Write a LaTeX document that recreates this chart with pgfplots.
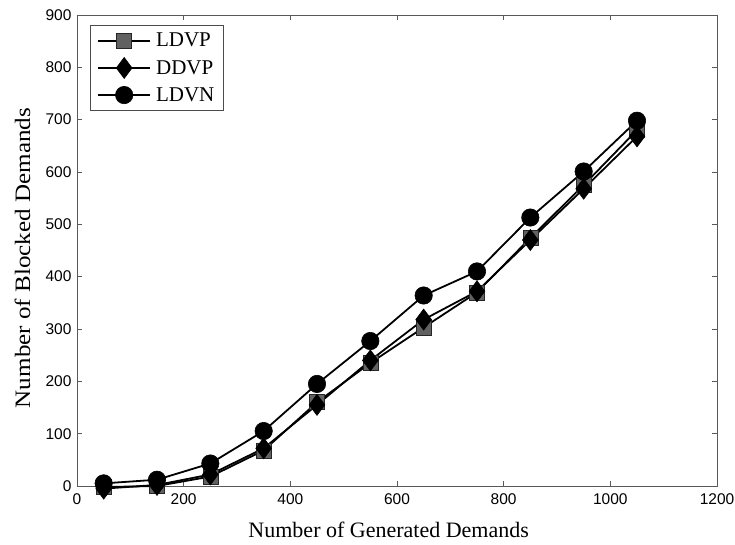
\documentclass[border=0pt]{standalone}
\usepackage{fontspec}
\setmainfont{Liberation Serif}
\newfontfamily\ticksans{Liberation Sans}
\usepackage{pgfplots}
\pgfplotsset{compat=1.18}
\begin{document}
\begin{tikzpicture}
\begin{axis}[
  scale only axis,
  width=640pt, height=471pt,
  xmin=0, xmax=1200, ymin=0, ymax=900,
  xtick={0,200,...,1200}, ytick={0,100,...,900},
  tick align=inside,
  major tick length=5pt,
  axis line style={line width=0.6pt, black!65},
  tick style={black!65, line width=0.6pt},
  /pgf/number format/assume math mode=true,
  /pgf/number format/1000 sep={},
  ticklabel style={font=\ticksans\fontsize{15.5}{17}\selectfont},
  yticklabel style={xshift=-2pt},
  xticklabel style={yshift=-4pt},
  xlabel={Number of Generated Demands},
  ylabel={\scalebox{1.14}[1]{Number of Blocked Demands}},
  xlabel style={font=\fontsize{22}{24}\selectfont, at={(axis description cs:0.487,-0.1083)}, anchor=base},
  ylabel style={font=\fontsize{22}{24}\selectfont, at={(axis description cs:-0.0734,0.484)}, anchor=base, rotate=0},
  legend style={at={(axis description cs:0.0203,0.979)}, anchor=north west, draw=black!70, line width=0.6pt,
    font=\fontsize{21}{23}\selectfont, row sep=7pt, inner xsep=7pt, inner ysep=6pt,
    /tikz/every odd column/.append style={column sep=3pt}},
  legend cell align=left,
  legend image code/.code={%
    \draw[mark repeat=2,mark phase=2] plot coordinates {(0pt,0pt) (26pt,0pt) (52pt,0pt)};},
  clip=false,
]
\addplot[line width=1.8pt, black, mark=square*, mark size=7.5pt, mark options={fill=black!62, draw=black!85, line width=0.6pt}]
coordinates {(50,-2) (150,0) (250,18) (350,68) (450,160) (550,235) (650,303) (750,370) (850,474) (950,575) (1050,680)};
\addlegendentry{LDVP}
\addplot[line width=1.8pt, black, mark=diamond*, mark size=10.5pt, mark options={fill=black, line width=0.6pt}]
coordinates {(50,-5) (150,2) (250,22) (350,72) (450,155) (550,240) (650,318) (750,372) (850,470) (950,568) (1050,668)};
\addlegendentry{DDVP}
\addplot[line width=1.8pt, black, mark=*, mark size=8.7pt, mark options={fill=black, line width=0.6pt}]
coordinates {(50,5) (150,12) (250,43) (350,105) (450,195) (550,277) (650,364) (750,410) (850,513) (950,601) (1050,698)};
\addlegendentry{LDVN}
\coordinate (ll) at (rel axis cs:0,0);
\coordinate (ur) at (rel axis cs:1,1);
\end{axis}
\pgfresetboundingbox
\path ([shift={(-77pt,-59pt)}]ll) rectangle ([shift={(18pt,15pt)}]ur);
\end{tikzpicture}
\end{document}
